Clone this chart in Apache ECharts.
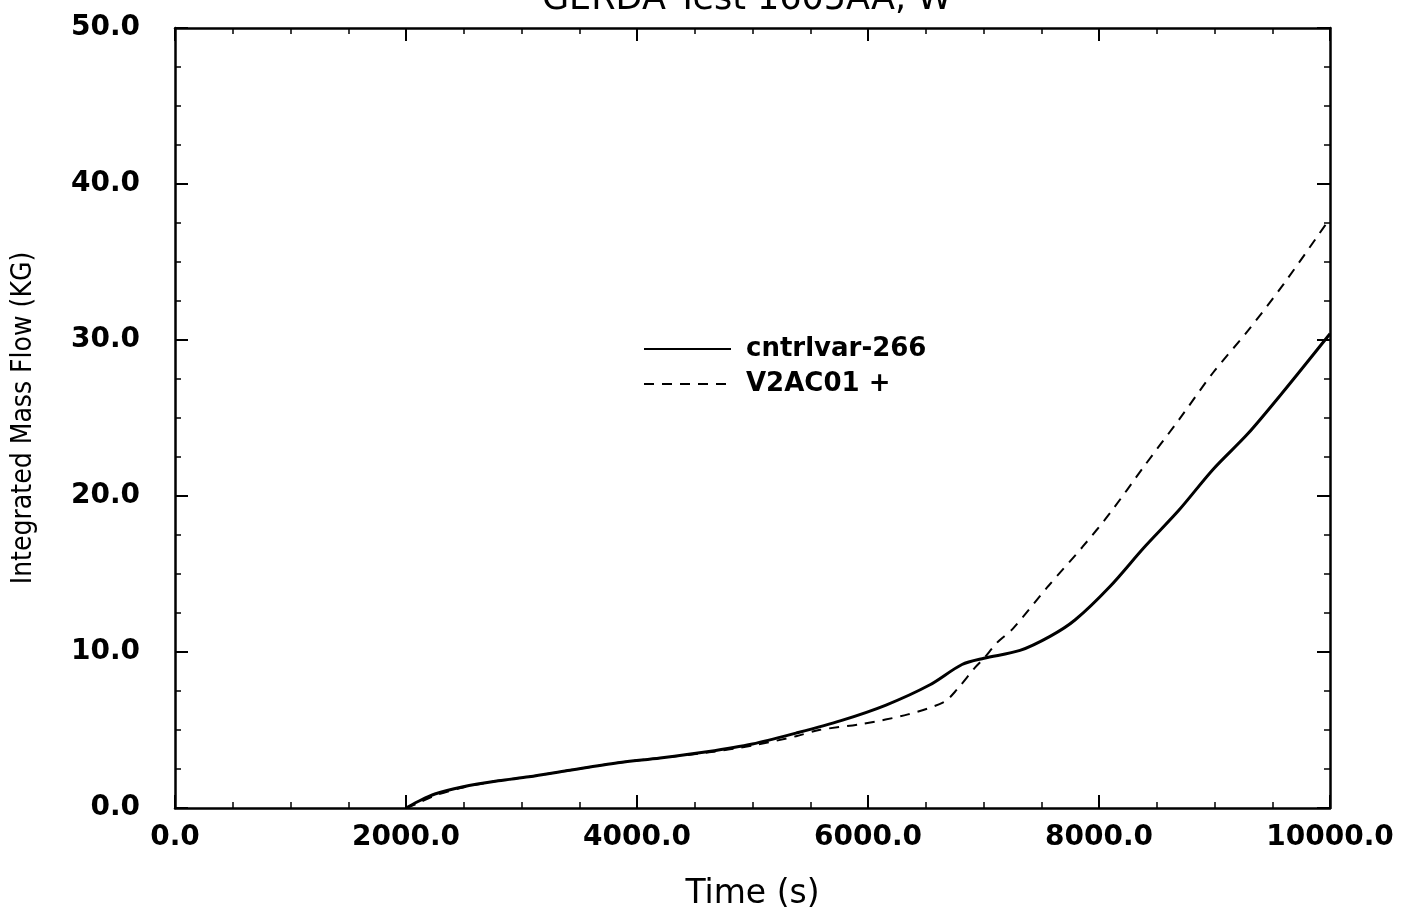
<!DOCTYPE html>
<html>
<head>
<meta charset="utf-8">
<script src="https://cdn.jsdelivr.net/npm/echarts@6/dist/echarts.min.js"></script>
<style>
html,body{margin:0;padding:0;background:#fff;}
#chart{width:1413px;height:915px;}
</style>
</head>
<body>
<div id="chart"></div>
<script>
var titleText = 'GERDA Test 1605AA, W';
var xAxisName = 'Time (s)';
var yAxisName = 'Integrated Mass Flow (KG)';
var seriesNames = ['cntrlvar-266', 'V2AC01 +'];

var solidTimes  = [2000, 2100, 2250, 2485, 2800, 3065, 3400, 3835, 4200, 4606, 5000, 5377, 5766, 6156, 6537, 6814, 7004, 7316, 7576, 7792, 8095, 8390, 8693, 8987, 9290, 9586, 10000];
var solidValues = [0, 0.4, 0.9, 1.35, 1.75, 2.0, 2.4, 2.9, 3.2, 3.6, 4.1, 4.8, 5.6, 6.6, 7.9, 9.2, 9.6, 10.1, 11.0, 12.05, 14.2, 16.7, 19.1, 21.7, 24.0, 26.6, 30.4];

var dashTimes  = [2000, 2100, 2250, 2485, 2800, 3065, 3400, 3835, 4200, 4606, 5000, 5377, 5576, 5957, 6346, 6658, 6771, 6926, 7004, 7117, 7255, 7558, 7853, 8095, 8390, 8693, 8987, 9290, 9600, 10000];
var dashValues = [0, 0.3, 0.8, 1.3, 1.75, 2.0, 2.4, 2.9, 3.2, 3.55, 4.0, 4.6, 5.0, 5.4, 6.0, 6.8, 7.6, 9.0, 9.6, 10.6, 11.5, 14.2, 16.7, 18.9, 21.9, 24.9, 27.9, 30.6, 33.6, 37.8];

function pairs(xs, ys){ return xs.map(function(x,i){ return [x, ys[i]]; }); }

var tickCommon = {inside:true, length:13, lineStyle:{color:'#000', width:2}};
var minorCommon = {show:true, splitNumber:4, length:6, lineStyle:{color:'#000', width:1.5}};
var axisLineCommon = {show:true, onZero:false, lineStyle:{color:'#000', width:2.5}};
var tickLabelStyle = {fontFamily:'DejaVu Sans', fontWeight:'bold', fontSize:28, color:'#000'};

var chart = echarts.init(document.getElementById('chart'), null, {renderer:'canvas'});
chart.setOption({
  backgroundColor:'#fff',
  animation:false,
  title:{
    text:titleText, left:537, top:-23,
    textStyle:{fontFamily:'DejaVu Sans', fontSize:35, fontWeight:'normal', color:'#000'}
  },
  legend:{
    orient:'vertical', left:638, top:331, itemWidth:87, itemHeight:14, itemGap:9,
    data:seriesNames,
    itemStyle:{opacity:0},
    textStyle:{fontFamily:'DejaVu Sans', fontWeight:'bold', fontSize:26, color:'#000', lineHeight:26, padding:[0,0,0,10]}
  },
  grid:{left:175, right:83, top:28, bottom:107, containLabel:false, outerBoundsMode:'none'},
  xAxis:[{
    type:'value', min:0, max:10000, interval:2000, position:'bottom',
    name:xAxisName, nameLocation:'middle', nameGap:70,
    nameTextStyle:{fontFamily:'DejaVu Sans', fontSize:33, color:'#000'},
    axisLine:axisLineCommon, axisTick:tickCommon, minorTick:minorCommon,
    axisLabel:Object.assign({show:true, margin:16, formatter:function(v){return v.toFixed(1);}}, tickLabelStyle),
    splitLine:{show:false}
  },{
    type:'value', min:0, max:10000, interval:2000, position:'top',
    axisLine:axisLineCommon, axisTick:tickCommon, minorTick:minorCommon,
    axisLabel:{show:false}, splitLine:{show:false}
  }],
  yAxis:[{
    type:'value', min:0, max:50, interval:10, position:'left',
    name:yAxisName, nameLocation:'middle', nameGap:137, nameRotate:90,
    nameTextStyle:{fontFamily:'DejaVu Sans Condensed, DejaVu Sans', fontSize:28, color:'#000'},
    axisLine:axisLineCommon, axisTick:tickCommon, minorTick:minorCommon,
    axisLabel:Object.assign({show:true, margin:35, formatter:function(v){return v.toFixed(1);}}, tickLabelStyle),
    splitLine:{show:false}
  },{
    type:'value', min:0, max:50, interval:10, position:'right',
    axisLine:axisLineCommon, axisTick:tickCommon, minorTick:minorCommon,
    axisLabel:{show:false}, splitLine:{show:false}
  }],
  series:[{
    name:seriesNames[0], type:'line', symbol:'none', smooth:0.3,
    lineStyle:{color:'#000', width:3, type:'solid'},
    itemStyle:{color:'#000'},
    data:pairs(solidTimes, solidValues)
  },{
    name:seriesNames[1], type:'line', symbol:'none', smooth:0.3,
    lineStyle:{color:'#000', width:2, type:[10,8]},
    itemStyle:{color:'#000'},
    data:pairs(dashTimes, dashValues)
  }]
});
</script>
</body>
</html>
